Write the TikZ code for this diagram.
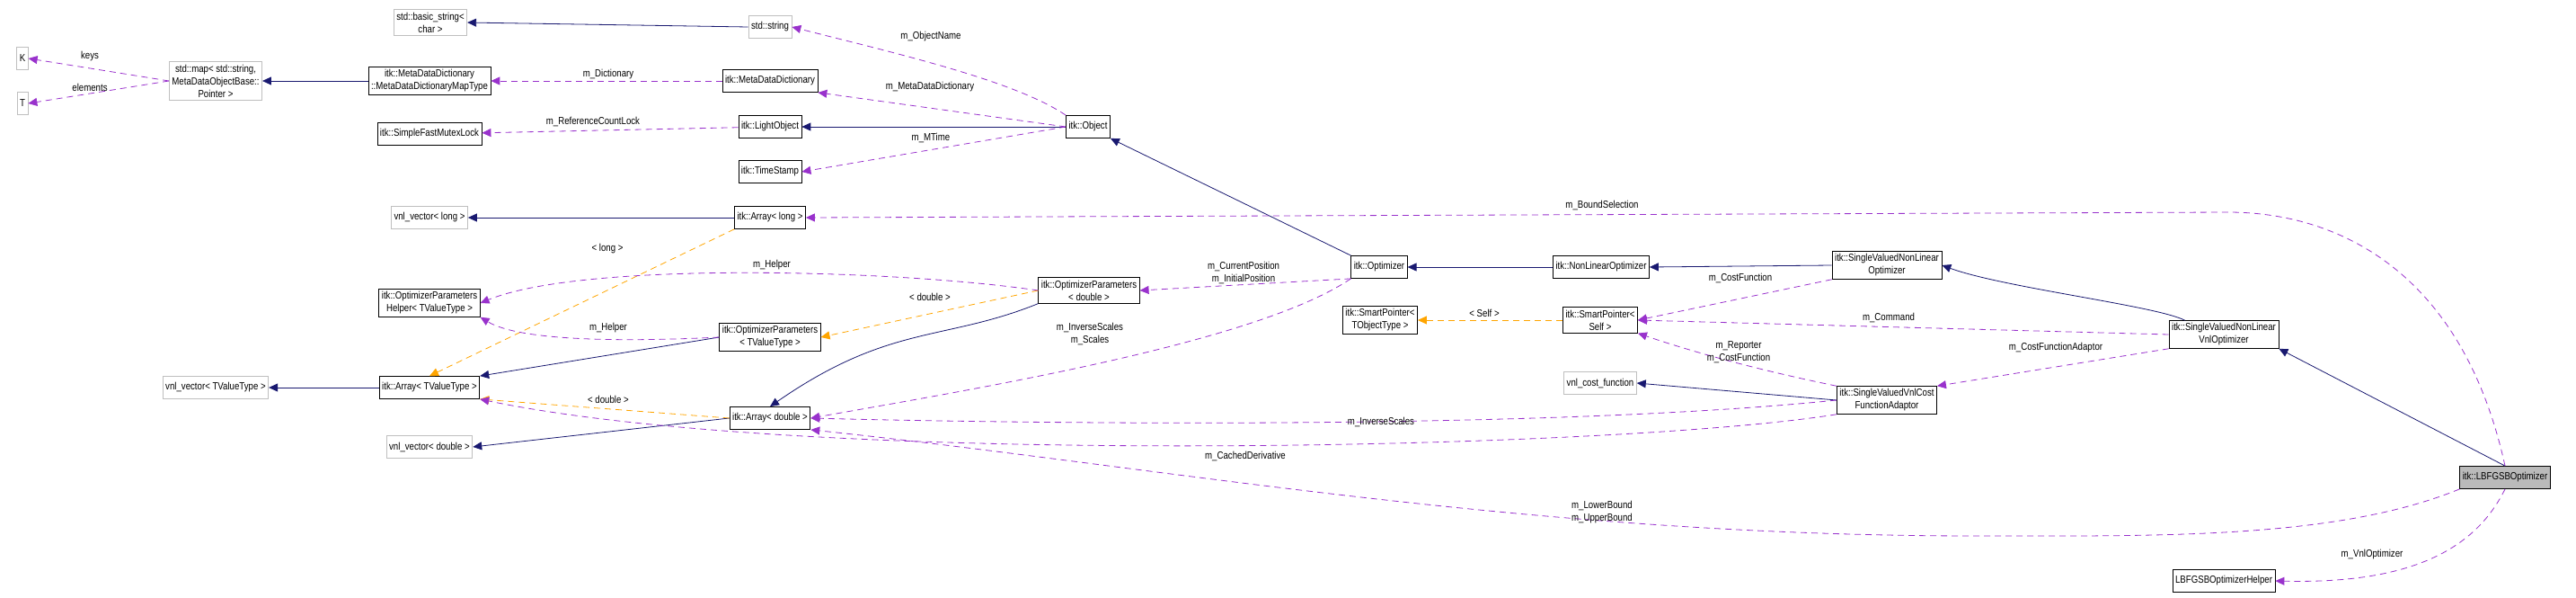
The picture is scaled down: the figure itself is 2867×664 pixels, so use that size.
\documentclass[tikz,border=0pt]{standalone}
\usepackage{fontspec}
\setmainfont{Liberation Sans}[FakeStretch=0.84]
\usetikzlibrary{arrows.meta}
\definecolor{inhcol}{RGB}{25,25,112}
\definecolor{usecol}{RGB}{153,50,204}
\definecolor{tplcol}{RGB}{255,165,0}
\definecolor{extcol}{RGB}{191,191,191}
\begin{document}
\begin{tikzpicture}[x=1pt,y=-1pt,font=\fontsize{11.5}{14}\selectfont,
  box/.style={draw=black,thick,fill=white,align=center,inner sep=3pt,minimum height=25pt},
  ext/.style={box,draw=extcol},
  main/.style={box,fill=black!27},
  inh/.style={draw=inhcol,thick,-{Triangle[length=10pt,width=9pt]}},
  use/.style={draw=usecol,thick,dashed,dash pattern=on 7pt off 5pt,-{Triangle[length=10pt,width=9pt]}},
  tpl/.style={draw=tplcol,thick,dash pattern=on 7pt off 5pt,-{Triangle[length=10pt,width=9pt]}},
  lbl/.style={align=center,inner sep=1pt}]
\useasboundingbox (0,0) rectangle (2867,664);

 % les noeuds
  \node[ext] (K) at (25,65) {K};
  \node[ext] (T) at (25,115) {T};
  \node[ext] (map) at (240,90) {std::map< std::string,\\MetaDataObjectBase::\\Pointer >};
  \node[ext] (bstr) at (479,25) {std::basic\_string<\\char >};
  \node[box] (mapt) at (478,90) {itk::MetaDataDictionary\\::MetaDataDictionaryMapType};
  \node[box] (lock) at (478,149) {itk::SimpleFastMutexLock};
  \node[ext] (vlong) at (478,242) {vnl\_vector< long >};
  \node[box] (helper) at (478,337) {itk::OptimizerParameters\\Helper< TValueType >};
  \node[ext] (vtv) at (240,431) {vnl\_vector< TValueType >};
  \node[box] (atv) at (478,431) {itk::Array< TValueType >};
  \node[ext] (vdbl) at (478,497) {vnl\_vector< double >};
  \node[ext] (str) at (857,30) {std::string};
  \node[box] (mdd) at (857,90) {itk::MetaDataDictionary};
  \node[box] (light) at (857,141) {itk::LightObject};
  \node[box] (stamp) at (857,191) {itk::TimeStamp};
  \node[box] (along) at (857,242) {itk::Array< long >};
  \node[box] (optv) at (857,375) {itk::OptimizerParameters\\< TValueType >};
  \node[box] (adbl) at (857,465) {itk::Array< double >};
  \node[box] (obj) at (1211,141) {itk::Object};
  \node[box] (optd) at (1212,323) {itk::OptimizerParameters\\< double >};
  \node[box] (opt) at (1535,297) {itk::Optimizer};
  \node[box] (spt) at (1536,356) {itk::SmartPointer<\\TObjectType >};
  \node[box] (nlo) at (1782,297) {itk::NonLinearOptimizer};
  \node[box] (sps) at (1781,356) {itk::SmartPointer<\\Self >};
  \node[ext] (cost) at (1781,426) {vnl\_cost\_function};
  \node[box] (svnl) at (2100,295) {itk::SingleValuedNonLinear\\Optimizer};
  \node[box] (adapt) at (2100,445) {itk::SingleValuedVnlCost\\FunctionAdaptor};
  \node[box] (vnlo) at (2475,372) {itk::SingleValuedNonLinear\\VnlOptimizer};
  \node[box] (lhelp) at (2475,646) {LBFGSBOptimizerHelper};
  \node[main] (lbfgsb) at (2788,531) {itk::LBFGSBOptimizer};

 % heritage
  \draw[inh] (str.west) -- (bstr.east);
  \draw[inh] (mapt) -- (map);
  \draw[inh] (obj) -- (light);
  \draw[inh] (along) -- (vlong);
  \draw[inh] (opt.north west) -- (obj.south east);
  \draw[inh] (nlo) -- (opt);
  \draw[inh] (svnl.west) -- (nlo.east);
  \draw[inh] (vnlo.160) .. controls (2400,340) and (2230,320) .. (svnl.east);
  \draw[inh] (lbfgsb.north) -- (vnlo.south east);
  \draw[inh] (atv) -- (vtv);
  \draw[inh] (optv.west) -- (atv.north east);
  \draw[inh] (optd.south west) .. controls (1050,380) and (990,360) .. (adbl.north);
  \draw[inh] (adbl.west) -- (vdbl.east);
  \draw[inh] (adapt.west) -- (cost.east);

 % parametres de modele
  \draw[tpl] (along.south west) -- (atv.north);
  \draw[tpl] (optd.west) -- (optv.east);
  \draw[tpl] (adbl.west) -- (atv.south east);
  \draw[tpl] (sps) -- (spt);

 % attributs
  \draw[use] (map.west) -- (K.east);
  \draw[use] (map.west) -- (T.east);
  \draw[use] (mdd) -- (mapt);
  \draw[use] (light) -- (lock);
  \draw[use] (obj.north west) .. controls (1130,90) and (1000,60) .. (str.east);
  \draw[use] (obj.west) -- (mdd.south east);
  \draw[use] (obj.west) -- (stamp.east);
  \draw[use] (optd.west) .. controls (1000,300) and (650,290) .. (helper.east);
  \draw[use] (optv.west) .. controls (700,380) and (580,380) .. (helper.south east);
  \draw[use] (opt.south west) -- (optd.east);
  \draw[use] (opt.south west) .. controls (1400,380) and (1100,430) .. (adbl.east);
  \draw[use] (lbfgsb.north) .. controls (2740,300) and (2600,236) .. (2480,236) -- (along.east);
  \draw[use] (svnl.south west) -- (sps.east);
  \draw[use] (vnlo.west) -- (sps.east);
  \draw[use] (adapt.north west) .. controls (1950,410) and (1880,390) .. (sps.south east);
  \draw[use] (vnlo.south west) -- (adapt.north east);
  \draw[use] (adapt.west) .. controls (1700,480) and (1100,470) .. (adbl.east);
  \draw[use] (adapt.south west) .. controls (1800,500) and (900,520) .. (atv.south east);
  \draw[use] (lbfgsb.south west) .. controls (2600,600) and (2400,596) .. (2200,596) .. controls (1700,596) and (1300,520) .. (adbl.south east);
  \draw[use] (lbfgsb.south) .. controls (2760,600) and (2700,650) .. (lhelp.east);

 % les etiquettes
  \node[lbl] (lkeys) at (100,63) {keys};
  \node[lbl] (lelem) at (100,97) {elements};
  \node[lbl] (ldict) at (677,83) {m\_Dictionary};
  \node[lbl] (llock) at (660,135) {m\_ReferenceCountLock};
  \node[lbl] (llong) at (676,277) {< long >};
  \node[lbl] (lhelpa) at (859,295) {m\_Helper};
  \node[lbl] (lhelpb) at (677,365) {m\_Helper};
  \node[lbl] (ldbla) at (677,444) {< double >};
  \node[lbl] (ldblb) at (1035,330) {< double >};
  \node[lbl] (lname) at (1036,41) {m\_ObjectName};
  \node[lbl] (lmdd) at (1035,97) {m\_MetaDataDictionary};
  \node[lbl] (ltime) at (1036,153) {m\_MTime};
  \node[lbl] (lpos) at (1384,303) {m\_CurrentPosition\\m\_InitialPosition};
  \node[lbl] (lscal) at (1213,371) {m\_InverseScales\\m\_Scales};
  \node[lbl] (linva) at (1537,469) {m\_InverseScales};
  \node[lbl] (lderiv) at (1386,507) {m\_CachedDerivative};
  \node[lbl] (lbound) at (1783,570) {m\_LowerBound\\m\_UpperBound};
  \node[lbl] (lsel) at (1783,228) {m\_BoundSelection};
  \node[lbl] (lcost) at (1937,309) {m\_CostFunction};
  \node[lbl] (lcmd) at (2102,353) {m\_Command};
  \node[lbl] (lrep) at (1935,392) {m\_Reporter\\m\_CostFunction};
  \node[lbl] (lself) at (1652,348) {< Self >};
  \node[lbl] (ladapt) at (2288,387) {m\_CostFunctionAdaptor};
  \node[lbl] (lvnl) at (2640,617) {m\_VnlOptimizer};
\end{tikzpicture}
\end{document}
